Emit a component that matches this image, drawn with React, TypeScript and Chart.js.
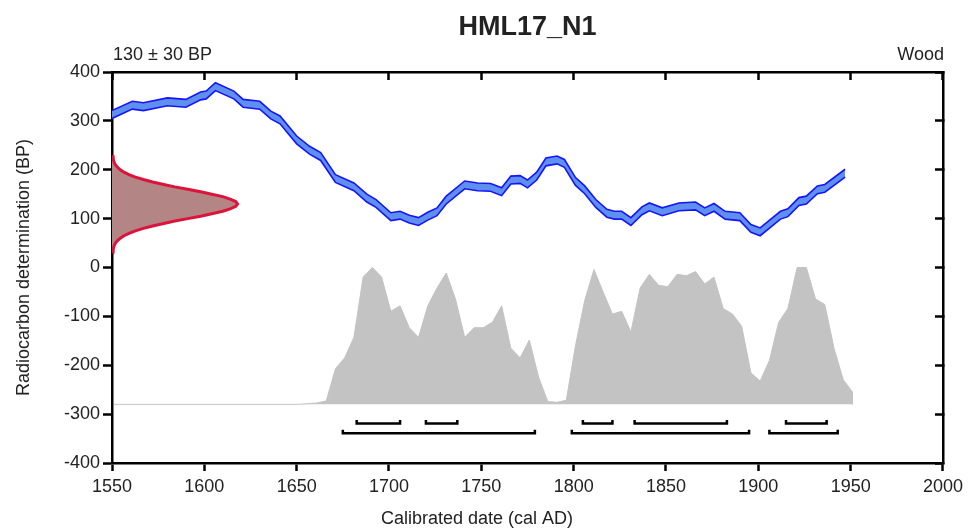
import React, { useEffect, useRef } from 'react';
import { Chart, registerables } from 'chart.js';

Chart.register(...registerables);

const FONT = '"Liberation Sans", Arial, sans-serif';
const TEXT_COLOR = '#222222';

const TITLE = 'HML17_N1';
const LEFT_LABEL = '130 ± 30 BP';
const RIGHT_LABEL = 'Wood';
const X_TITLE = 'Calibrated date (cal AD)';
const Y_TITLE = 'Radiocarbon determination (BP)';

// Calibration curve (cal AD vs BP) and its 1-sigma error
const curveYears = [1550, 1561, 1567, 1580, 1590, 1598, 1601, 1606, 1616, 1621, 1630, 1636, 1641, 1650, 1657, 1663, 1671, 1681, 1688, 1693, 1701, 1706, 1711, 1716, 1721, 1726, 1731, 1741, 1748, 1755, 1761, 1766, 1771, 1775, 1780, 1785, 1791, 1795, 1801, 1806, 1812, 1818, 1822, 1826, 1831, 1837, 1841, 1848, 1857, 1866, 1871, 1876, 1882, 1890, 1896, 1901, 1912, 1916, 1922, 1926, 1932, 1936, 1947];
const curveBP = [313, 332, 329, 339, 336, 351, 353, 370, 353, 336, 332, 312, 302, 261, 240, 227, 182, 165, 142, 131, 104, 107, 99, 94, 105, 114, 138, 169, 165, 164, 155, 179, 180, 171, 187, 216, 220, 213, 176, 159, 131, 111, 107, 107, 94, 116, 124, 114, 124, 126, 114, 123, 107, 104, 80, 73, 107, 112, 135, 138, 159, 162, 193];
const curveErr = [8, 8, 8, 8, 8, 8, 8, 8, 8, 8, 8, 8, 8, 8, 8, 8, 8, 8, 8, 8, 8, 8, 8, 8, 8, 8, 8, 8, 8, 8, 8, 8, 8, 8, 8, 8, 8, 8, 8, 8, 8, 8, 8, 8, 8, 8, 8, 8, 8, 8, 8, 8, 8, 8, 8, 8, 8, 8, 8, 8, 8, 8, 8];

// Radiocarbon determination 130 ± 30 BP (density drawn as width in years from the axis)
const measBP = [30, 35, 40, 45, 50, 55, 60, 65, 70, 75, 80, 85, 90, 95, 100, 105, 110, 115, 120, 125, 130, 135, 140, 145, 150, 155, 160, 165, 170, 175, 180, 185, 190, 195, 200, 205, 210, 215, 220, 225, 230];
const measWidth = [0.3, 0.45, 0.8, 1.2, 1.9, 3.0, 4.5, 6.5, 9.2, 12.7, 17, 22, 28, 34, 41, 48, 54, 60, 64, 67, 68, 67, 64, 60, 54, 48, 41, 34, 28, 22, 17, 12.7, 9.2, 6.5, 4.5, 3.0, 1.9, 1.2, 0.8, 0.45, 0.3];

// Calibrated probability distribution (relative)
const distYears = [1551, 1601, 1651, 1656, 1661, 1666, 1671, 1676, 1681, 1686, 1691, 1696, 1701, 1706, 1711, 1716, 1721, 1726, 1731, 1736, 1741, 1746, 1751, 1756, 1761, 1766, 1771, 1776, 1781, 1786, 1791, 1796, 1801, 1806, 1811, 1816, 1821, 1826, 1831, 1836, 1841, 1846, 1851, 1856, 1861, 1866, 1871, 1876, 1881, 1886, 1891, 1896, 1901, 1906, 1911, 1916, 1921, 1926, 1931, 1936, 1941, 1946, 1951, 1951];
const distProb = [0, 0, 0, 0.005, 0.01, 0.025, 0.26, 0.34, 0.49, 0.93, 1.0, 0.93, 0.68, 0.72, 0.56, 0.49, 0.72, 0.85, 0.96, 0.77, 0.49, 0.56, 0.56, 0.60, 0.72, 0.41, 0.34, 0.47, 0.20, 0.02, 0.015, 0.03, 0.43, 0.76, 0.985, 0.82, 0.66, 0.68, 0.53, 0.85, 0.95, 0.87, 0.86, 0.95, 0.94, 0.97, 0.88, 0.93, 0.70, 0.66, 0.57, 0.23, 0.17, 0.32, 0.60, 0.70, 1.0, 1.0, 0.77, 0.73, 0.41, 0.18, 0.09, 0];

// Highest probability ranges
const range68Start = [1682.5, 1720, 1805, 1833, 1915];
const range68End = [1706, 1737, 1821, 1883, 1937];
const range95Start = [1675, 1799, 1906];
const range95End = [1779, 1895, 1943];

// Placement constants (BP axis units)
const DIST_BASE = -280;
const DIST_HEIGHT = 280;
const ROW68 = -319;
const ROW95 = -339;
const BRACKET_TICK = 7;

const BLUE = '#1414ff';
const BLUE_FILL = '#6090ee';
const RED = '#dc143c';
const RED_FILL = '#b38585';
const GRAY = '#c3c3c3';

function bracket(a: number, b: number, y: number) {
  return {
    type: 'line' as const,
    data: [
      { x: a, y: y + BRACKET_TICK },
      { x: a, y },
      { x: b, y },
      { x: b, y: y + BRACKET_TICK },
    ],
    borderColor: '#000',
    borderWidth: 2.5,
    pointRadius: 0,
    fill: false,
    tension: 0,
    borderJoinStyle: 'miter' as const,
    borderCapStyle: 'butt' as const,
  };
}

const textPlugin = {
  id: 'freeTexts',
  afterDraw(chart: any) {
    const { ctx, chartArea } = chart;
    ctx.save();
    ctx.fillStyle = TEXT_COLOR;
    ctx.textBaseline = 'alphabetic';
    ctx.font = `bold 27px ${FONT}`;
    ctx.textAlign = 'center';
    ctx.fillText(TITLE, (chartArea.left + chartArea.right) / 2, 35);
    ctx.font = `18px ${FONT}`;
    ctx.textAlign = 'left';
    ctx.fillText(LEFT_LABEL, chartArea.left + 1, 60);
    ctx.textAlign = 'right';
    ctx.fillText(RIGHT_LABEL, chartArea.right + 1, 60);
    ctx.textAlign = 'center';
    ctx.fillText(X_TITLE, 477, 524);
    ctx.restore();
  },
};

export default function App() {
  const canvasRef = useRef<HTMLCanvasElement | null>(null);

  useEffect(() => {
    if (!canvasRef.current) return;
    const datasets: any[] = [];

    datasets.push({
      type: 'line',
      label: 'curve upper',
      data: curveYears.map((x, i) => ({ x, y: curveBP[i] + curveErr[i] })),
      borderColor: BLUE,
      borderWidth: 1.6,
      pointRadius: 0,
      fill: false,
      tension: 0,
    });
    datasets.push({
      type: 'line',
      label: 'curve lower',
      data: curveYears.map((x, i) => ({ x, y: curveBP[i] - curveErr[i] })),
      borderColor: BLUE,
      borderWidth: 1.6,
      backgroundColor: BLUE_FILL,
      pointRadius: 0,
      fill: '-1',
      tension: 0,
    });
    datasets.push({
      type: 'line',
      label: 'determination',
      indexAxis: 'y',
      data: measBP.map((y, i) => ({ x: 1550 + measWidth[i], y })),
      borderColor: RED,
      borderWidth: 3,
      backgroundColor: RED_FILL,
      pointRadius: 0,
      fill: { value: 1550 },
      tension: 0,
      clip: 0,
    });
    datasets.push({
      type: 'line',
      label: 'determination edge',
      data: [
        { x: 1550, y: measBP[0] },
        { x: 1550, y: measBP[measBP.length - 1] },
      ],
      borderColor: RED,
      borderWidth: 5,
      pointRadius: 0,
      fill: false,
      clip: 0,
    });
    datasets.push({
      type: 'line',
      label: 'calibrated',
      data: distYears.map((x, i) => ({ x, y: DIST_BASE + distProb[i] * DIST_HEIGHT })),
      borderColor: GRAY,
      borderWidth: 1,
      backgroundColor: GRAY,
      pointRadius: 0,
      fill: { value: DIST_BASE },
      tension: 0,
    });
    range68Start.forEach((a, i) => datasets.push(bracket(a, range68End[i], ROW68)));
    range95Start.forEach((a, i) => datasets.push(bracket(a, range95End[i], ROW95)));

    const tickFont = { family: FONT, size: 18 };
    const border = { display: true, color: '#000', width: 2.5 };

    const chart = new Chart(canvasRef.current, {
      type: 'line',
      data: { datasets },
      plugins: [textPlugin],
      options: {
        animation: false,
        responsive: false,
        devicePixelRatio: 1,
        layout: { padding: { top: 72, right: 25, left: 0, bottom: 0 } },
        plugins: {
          legend: { display: false },
          tooltip: { enabled: false },
          title: { display: false },
        },
        scales: {
          x: {
            type: 'linear',
            position: 'bottom',
            min: 1550,
            max: 2000,
            ticks: {
              stepSize: 50,
              font: tickFont,
              color: TEXT_COLOR,
              padding: 5,
              maxRotation: 0,
              autoSkip: false,
              callback: (v: any) => String(v),
            },
            grid: { drawOnChartArea: false, drawTicks: true, tickLength: 8, tickWidth: 2.5, tickColor: '#000' },
            border,
            afterFit: (s: any) => { s.height = 66; },
          },
          x2: {
            type: 'linear',
            position: 'top',
            min: 1550,
            max: 2000,
            ticks: { stepSize: 50, display: false },
            grid: { drawOnChartArea: false, drawTicks: true, tickLength: -8, tickWidth: 2.5, tickColor: '#000' },
            border,
            afterFit: (s: any) => { s.height = 0; },
          },
          y: {
            type: 'linear',
            position: 'left',
            min: -400,
            max: 400,
            ticks: { stepSize: 100, font: tickFont, color: TEXT_COLOR, padding: 3 },
            grid: { drawOnChartArea: false, drawTicks: true, tickLength: 9, tickWidth: 2.5, tickColor: '#000' },
            border,
            title: {
              display: true,
              text: Y_TITLE,
              font: { family: FONT, size: 18 },
              color: TEXT_COLOR,
              padding: { top: 13, bottom: 0 },
            },
            afterFit: (s: any) => { s.width = 112; },
          },
          y2: {
            type: 'linear',
            position: 'right',
            min: -400,
            max: 400,
            ticks: { stepSize: 100, display: false },
            grid: { drawOnChartArea: false, drawTicks: true, tickLength: -8, tickWidth: 2.5, tickColor: '#000' },
            border,
            afterFit: (s: any) => { s.width = 0; },
          },
        },
      } as any,
    });
    return () => chart.destroy();
  }, []);

  return (
    <div style={{ position: 'fixed', left: 0, top: 0, width: 968, height: 529, background: '#fff' }}>
      <canvas ref={canvasRef} width={968} height={529} style={{ display: 'block' }} />
    </div>
  );
}
